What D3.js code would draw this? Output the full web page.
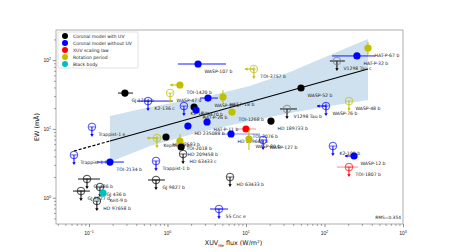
<!DOCTYPE html>
<html lang="en">
<head>
<meta charset="UTF-8">
<style>
  body{margin:0;background:#fff;font-family:"DejaVu Sans",sans-serif;}
  svg{display:block;}
  .lbl{font-size:4.6px;fill:#222;}
  .tick text{font-size:5px;fill:#222;}
</style>
<script src="https://d3js.org/d3.v7.min.js"></script>
</head>
<body>
<svg id="chart" width="449" height="252"></svg>
<script>
// planets, XUV flux in the He band (W/m2) and helium EW (mA)
var names = ["GJ 1214 b","K2-136 c","WASP-47 d","TOI-1420 b","WASP-107 b","TOI-3757 b","WASP-69 b","HAT-P-18 b","K2-18 b","GJ 3470 b",
  "HAT-P-26 b","HD 235088 b","HAT-P-11 b","TOI-1268 b","HD 189733 b","TOI-2076 b","HD 219666 b","WASP-80 b","WASP-127 b","WASP-52 b",
  "V1298 Tau b","V1298 Tau c","HAT-P-32 b","HAT-P-67 b","WASP-48 b","WASP-76 b","K2-100 b","WASP-12 b","TOI-1807 b","Trappist-1 e",
  "Trappist-1 f","TOI-2134 b","GJ 486 b","GJ 9827 d","GJ 436 b","Kelt-9 b","HD 97658 b","Kepler-68 b","HD 73583 b","TOI-2018 b",
  "HD 209458 b","HD 63433 c","Trappist-1 b","GJ 9827 b","HD 63433 b","55 Cnc e"];
var flux = [0.287,0.565,1.08,1.44,2.45,12.6,3.28,5.09,1.62,2.18,
  2.31,1.82,3.19,6.63,20.8,10.0,6.44,10.9,16.5,50.2,
  33.3,144,259,358,205,104.5,128,238,205,0.109,
  0.0644,0.185,0.0943,0.0791,0.138,0.151,0.126,0.735,0.957,1.44,
  1.49,1.58,0.714,0.714,6.26,4.53];
var ew = [33.2,25.4,33.2,43.5,87.8,74.2,28.1,29.1,21.5,20.8,
  18.8,11.0,12.6,17.6,13.0,9.97,8.43,7.13,6.90,39.3,
  19.5,97.1,115,150,25.4,21.5,5.64,4.04,2.79,10.7,
  4.18,3.30,1.87,1.25,1.43,1.17,0.895,7.38,7.63,6.67,
  5.46,4.32,3.42,1.81,2.00,0.685];
// 0 coronal with UV, 1 coronal without UV, 2 XUV scaling, 3 rotation, 4 black body
var model = [0,1,3,3,1,3,1,3,1,0,
  1,1,1,3,0,2,1,3,1,0,
  0,0,1,3,3,1,1,1,2,1,
  1,1,0,0,0,4,0,3,0,3,
  0,0,1,0,0,1];
// 1 = EW upper limit
var upper = [0,1,1,0,0,1,0,0,1,0,
  0,0,0,0,0,0,0,0,1,0,
  1,1,0,0,1,1,1,0,1,1,
  1,0,1,1,1,0,1,1,0,0,
  0,1,1,1,1,1];

var fluxErr = {"GJ 1214 b":[0.234,0.364],"K2-136 c":[0.409,1.17],"WASP-107 b":[1.36,5.56],"WASP-69 b":[2.59,4.40],
  "TOI-2076 b":[7.46,13.4],"HD 219666 b":[4.95,15.1],"V1298 Tau b":[27.1,44.6],"V1298 Tau c":[117,182],
  "HAT-P-32 b":[125,440],"TOI-1807 b":[144,267],"TOI-2134 b":[0.126,0.279],"GJ 486 b":[0.0724,0.138],
  "GJ 9827 d":[0.0625,0.103],"GJ 9827 b":[0.565,0.929],"55 Cnc e":[3.48,5.90]};
var ewErr = {"HAT-P-18 b":[23.7,36.6],"WASP-80 b":[4.94,9.64],"HAT-P-67 b":[119,183],"TOI-2018 b":[5.28,8.43]};
// flux upper limits, arrow drawn to this flux
var fluxLimit = {"TOI-1420 b":1.08,"TOI-3757 b":9.7,"WASP-76 b":80.2,"WASP-12 b":182,"Kepler-68 b":0.548};

// fit and its band
var fitX = [0.0644, 0.185, 358];
var fitY = [4.77, 6.68, 74.2];
var bandX = [0.185, 0.598, 2.59, 11.2, 36.4, 117, 358];
var bandHi = [15.4, 20.8, 28.1, 42.0, 67.1, 119, 203];
var bandLo = [3.30, 5.64, 9.02, 13.0, 17.0, 21.5, 26.3];

var legendNames = ["Coronal model with UV","Coronal model without UV","XUV scaling law","Rotation period","Black body"];
var colors = ["#000000","#0000ff","#ff0000","#bfbf00","#00bfbf"];
var xTicks = [0.1, 1, 10, 100, 1000];
var xTickExp = ["\u22121","0","1","2","3"];
var yTicks = [1, 10, 100];
var yTickExp = ["0","1","2"];

var svg = d3.select("#chart");
var L = 56, R = 403, T = 30, B = 224;
var x = d3.scaleLog().domain([0.038, 1000]).range([L, R]);
var y = d3.scaleLog().domain([0.415, 274]).range([B, T]);

svg.append("defs").append("clipPath").attr("id","clip")
  .append("rect").attr("x",L).attr("y",T).attr("width",R-L).attr("height",B-T);
var plot = svg.append("g").attr("clip-path","url(#clip)");

// band
var band = bandX.map(function(v,i){ return [v, bandLo[i], bandHi[i]]; });
plot.append("path").datum(band)
  .attr("d", d3.area().x(function(d){return x(d[0]);}).y0(function(d){return y(d[1]);}).y1(function(d){return y(d[2]);}))
  .attr("fill","#cfe1ee");

// fit line
plot.append("line").attr("x1",x(fitX[0])).attr("y1",y(fitY[0])).attr("x2",x(fitX[1])).attr("y2",y(fitY[1]))
  .attr("stroke","#000").attr("stroke-width",1.2).attr("stroke-dasharray","3,1.8");
plot.append("line").attr("x1",x(fitX[1])).attr("y1",y(fitY[1])).attr("x2",x(fitX[2])).attr("y2",y(fitY[2]))
  .attr("stroke","#000").attr("stroke-width",1.2);

var pts = names.map(function(n,i){
  return {name:n, f:flux[i], e:ew[i], m:model[i], up:upper[i], fe:fluxErr[n], ee:ewErr[n], fl:fluxLimit[n]};
});

function ptColor(d){ return (d.m === 0 && d.up && (d.name.indexOf("V1298") === 0)) ? "#777" : colors[d.m]; }

var g = plot.selectAll(".pt").data(pts).enter().append("g").attr("class","pt");

// horizontal error bars
g.filter(function(d){return d.fe;}).append("line")
  .attr("x1",function(d){return x(d.fe[0]);}).attr("x2",function(d){return x(d.fe[1]);})
  .attr("y1",function(d){return y(d.e);}).attr("y2",function(d){return y(d.e);})
  .attr("stroke",function(d){return colors[d.m];})
  .attr("stroke-opacity",function(d){return d.m === 2 ? 0.45 : (d.name === "HD 219666 b" ? 0.45 : 0.9);})
  .attr("stroke-width",1);
// vertical error bars
g.filter(function(d){return d.ee;}).append("line")
  .attr("x1",function(d){return x(d.f);}).attr("x2",function(d){return x(d.f);})
  .attr("y1",function(d){return y(d.ee[0]);}).attr("y2",function(d){return y(d.ee[1]);})
  .attr("stroke",function(d){return colors[d.m];}).attr("stroke-width",1);
// flux limit arrows (pointing left)
var fa = g.filter(function(d){return d.fl;});
fa.append("line")
  .attr("x1",function(d){return x(d.f);}).attr("x2",function(d){return x(d.fl);})
  .attr("y1",function(d){return y(d.e);}).attr("y2",function(d){return y(d.e);})
  .attr("stroke",function(d){return colors[d.m];}).attr("stroke-width",1);
fa.append("path")
  .attr("d",function(d){ var ax = x(d.fl), ay = y(d.e); return "M"+ax+","+ay+"l2.6,-1.6l0,3.2z"; })
  .attr("fill",function(d){return colors[d.m];});
fa.append("line")
  .attr("x1",function(d){return x(d.f);}).attr("x2",function(d){return x(d.f);})
  .attr("y1",function(d){return y(d.e)-2.5;}).attr("y2",function(d){return y(d.e)+2.5;})
  .attr("stroke",function(d){return colors[d.m];}).attr("stroke-width",0.8);

// EW upper limits: open marker, cap, down arrow
var ul = g.filter(function(d){return d.up;});
ul.append("line")
  .attr("x1",function(d){return x(d.f);}).attr("x2",function(d){return x(d.f);})
  .attr("y1",function(d){return y(d.e);}).attr("y2",function(d){return y(d.e)+8;})
  .attr("stroke",function(d){return d.m===0 ? "#000" : colors[d.m];}).attr("stroke-width",1);
ul.append("path")
  .attr("d",function(d){ var ax = x(d.f), ay = y(d.e)+10; return "M"+ax+","+ay+"l-1.7,-2.8l3.4,0z"; })
  .attr("fill",function(d){return d.m===0 ? "#000" : colors[d.m];});
ul.append("line")
  .attr("x1",function(d){return x(d.f)-3;}).attr("x2",function(d){return x(d.f)+3;})
  .attr("y1",function(d){return y(d.e);}).attr("y2",function(d){return y(d.e);})
  .attr("stroke",function(d){return ptColor(d);}).attr("stroke-width",0.8).attr("stroke-opacity",0.8);
ul.append("circle")
  .attr("cx",function(d){return x(d.f);}).attr("cy",function(d){return y(d.e);}).attr("r",3.8)
  .attr("fill","none").attr("stroke",function(d){return ptColor(d);})
  .attr("stroke-opacity",0.8).attr("stroke-width",0.9);

// detections: filled marker
g.filter(function(d){return !d.up;}).append("circle")
  .attr("cx",function(d){return x(d.f);}).attr("cy",function(d){return y(d.e);}).attr("r",3.6)
  .attr("fill",function(d){return colors[d.m];});

// labels
g.append("text").attr("class","lbl")
  .attr("x",function(d){return x(d.f)+6.5;}).attr("y",function(d){return y(d.e)+9;})
  .text(function(d){return d.name;});

// axes
function supLabel(sel, base, exp){
  sel.text(base).append("tspan").attr("dy",-2).attr("font-size","3.6px").text(exp);
}
function minors(dom){
  var out = [], lo = Math.floor(Math.log10(dom[0])), hi = Math.ceil(Math.log10(dom[1]));
  for (var p = lo; p <= hi; p++) for (var k = 2; k <= 9; k++){
    var v = k*Math.pow(10,p); if (v >= dom[0] && v <= dom[1]) out.push(v);
  }
  return out;
}
var xa = svg.append("g").attr("transform","translate(0,"+B+")");
xa.call(d3.axisBottom(x).tickValues(minors(x.domain())).tickSize(1.8).tickFormat(""));
xa.append("g").call(d3.axisBottom(x).tickValues(xTicks).tickSize(3.2).tickFormat(""));
xa.selectAll("path").remove();
xa.selectAll("line").attr("stroke","#444").attr("stroke-width",0.6);
xTicks.forEach(function(v,i){
  supLabel(xa.append("text").attr("x",x(v)).attr("y",11).attr("text-anchor","middle")
    .attr("font-size","5px").attr("fill","#222"), "10", xTickExp[i]);
});

var ya = svg.append("g").attr("transform","translate("+L+",0)");
ya.call(d3.axisLeft(y).tickValues(minors(y.domain())).tickSize(1.8).tickFormat(""));
ya.append("g").call(d3.axisLeft(y).tickValues(yTicks).tickSize(3.2).tickFormat(""));
ya.selectAll("path").remove();
ya.selectAll("line").attr("stroke","#444").attr("stroke-width",0.6);
yTicks.forEach(function(v,i){
  supLabel(ya.append("text").attr("x",-5).attr("y",y(v)+1.8).attr("text-anchor","end")
    .attr("font-size","5px").attr("fill","#222"), "10", yTickExp[i]);
});

svg.append("rect").attr("x",L).attr("y",T).attr("width",R-L).attr("height",B-T)
  .attr("fill","none").attr("stroke","#999").attr("stroke-width",0.8);

// axis titles
var xt = svg.append("text").attr("x",(L+R)/2+4).attr("y",245).attr("text-anchor","middle")
  .attr("font-size","6.4px").attr("fill","#111").text("XUV");
xt.append("tspan").attr("dy",1.6).attr("font-size","4.2px").text("He");
xt.append("tspan").attr("dy",-1.6).text(" flux (W/m");
xt.append("tspan").attr("dy",-2.2).attr("font-size","4.2px").text("2");
xt.append("tspan").attr("dy",2.2).text(")");
svg.append("text").attr("transform","translate(39,"+((T+B)/2)+") rotate(-90)")
  .attr("text-anchor","middle").attr("font-size","6.4px").attr("fill","#111").text("EW (m\u00c5)");

// legend
var lg = svg.append("g").attr("transform","translate(58,32)");
lg.append("rect").attr("width",80).attr("height",36).attr("rx",1.5)
  .attr("fill","#fff").attr("fill-opacity",0.85).attr("stroke","#ccc").attr("stroke-width",0.6);
legendNames.forEach(function(n,i){
  lg.append("circle").attr("cx",7).attr("cy",4+i*7).attr("r",3).attr("fill",colors[i]);
  lg.append("text").attr("x",15).attr("y",5.6+i*7).attr("font-size","4.5px").attr("fill","#222").text(n);
});

svg.append("text").attr("x",R-2).attr("y",219).attr("text-anchor","end")
  .attr("font-size","4.4px").attr("fill","#222").text("RMS=0.354");
</script>
</body>
</html>
